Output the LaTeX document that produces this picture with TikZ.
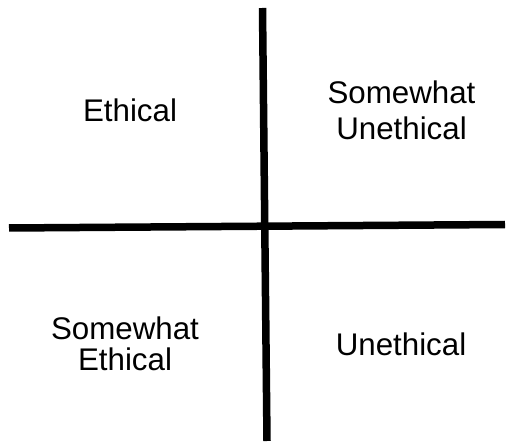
\documentclass[tikz,border=0pt]{standalone}
\usepackage{fontspec}
\setmainfont{Liberation Sans}
\begin{document}
\begin{tikzpicture}[x=1pt,y=-1pt,
  axis/.style={line width=7.5pt,black},
  lbl/.style={font=\fontsize{31.3}{36}\selectfont,align=center,anchor=base,inner sep=0pt}]
\useasboundingbox[fill=white] (0,0) rectangle (508,443);
\coordinate (vt) at (262.5,8);
\coordinate (vb) at (267,441);
\coordinate (hl) at (9,228);
\coordinate (hr) at (505,224.5);
\draw[axis] (vt) -- (vb);
\draw[axis] (hl) -- (hr);
\node[lbl] (eth) at (130,121.7) {Ethical};
\node[lbl] (sune) at (401.5,140) {Somewhat\\Unethical};
\node[lbl,font=\fontsize{31.3}{31}\selectfont] (seth) at (125,370) {Somewhat\\Ethical};
\node[lbl] (une) at (401,355) {Unethical};
\end{tikzpicture}
\end{document}
